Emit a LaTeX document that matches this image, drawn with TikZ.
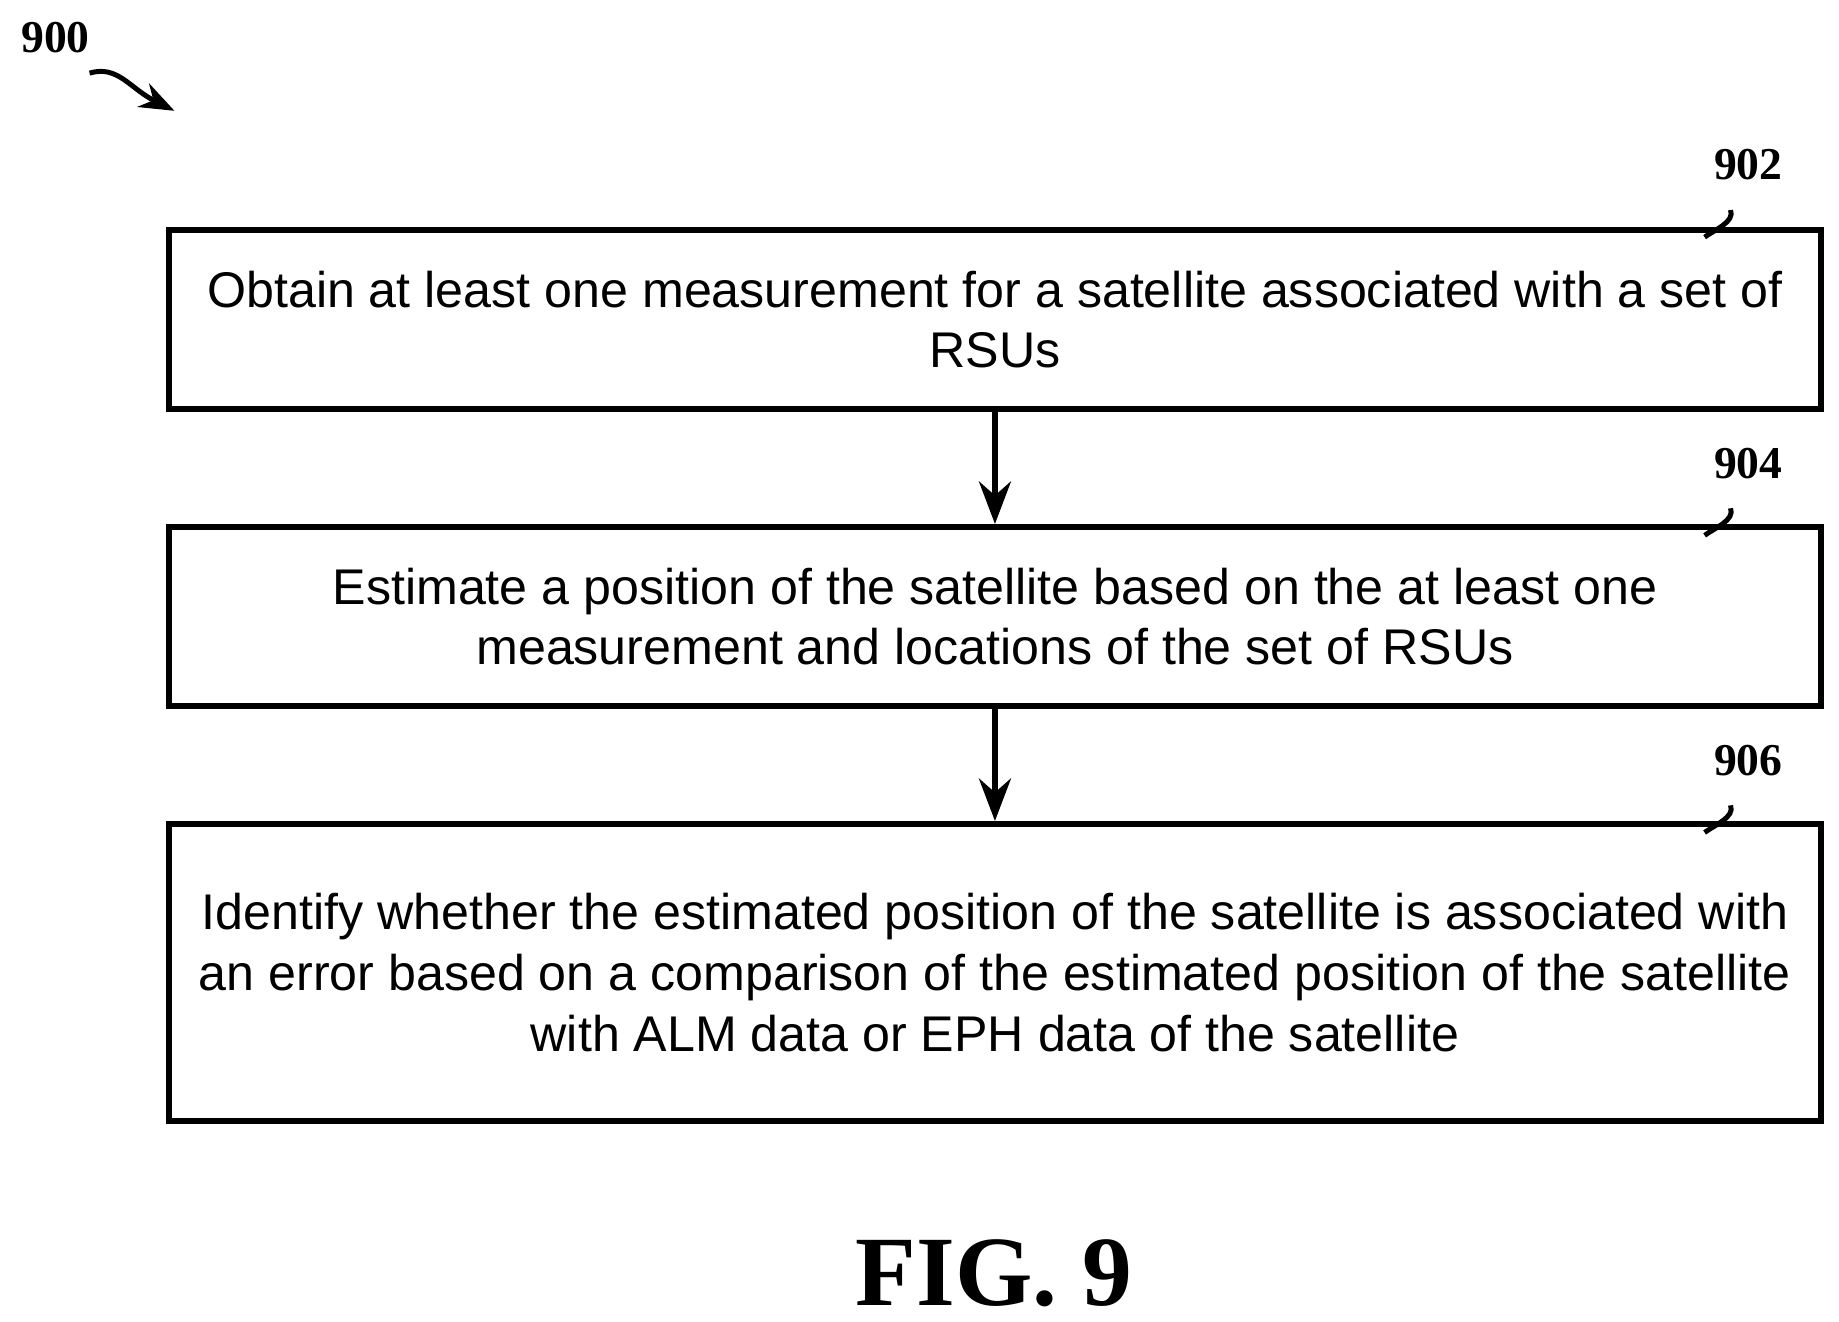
\documentclass[tikz,border=0pt]{standalone}
\usepackage{fontspec}
\setmainfont{Liberation Sans}
\newfontfamily\labelfont{Liberation Serif}
\usetikzlibrary{arrows.meta, positioning}

\begin{document}
\begin{tikzpicture}[->, >=Stealth, thick, x=0.01cm, y=-0.01cm]

  % Stili
  \tikzstyle{stepbox} = [rectangle, draw=black, line width=1.4pt, minimum width=14.0cm, minimum height=1.52cm, align=center, font=\fontsize{12.1pt}{14.6pt}\selectfont]
  \tikzstyle{reflabel} = [font=\labelfont\bfseries\fontsize{11pt}{13pt}\selectfont]

  \useasboundingbox (0,0) rectangle (1560,1121);

  % Nodi
  \node[stepbox] (s902) at (844,271) {Obtain at least one measurement for a satellite associated with a set of\\RSUs};
  \node[stepbox] (s904) at (844,523) {Estimate a position of the satellite based on the at least one\\measurement and locations of the set of RSUs};
  \node[stepbox, minimum height=2.52cm] (s906) at (844,825) {Identify whether the estimated position of the satellite is associated with\\an error based on a comparison of the estimated position of the satellite\\with ALM data or EPH data of the satellite};

  \node[reflabel] (l900) at (47,32) {900};
  \node[reflabel] (l902) at (1483,140) {902};
  \node[reflabel] (l904) at (1483,393) {904};
  \node[reflabel] (l906) at (1483,645) {906};
  \node[font=\labelfont\bfseries\fontsize{24pt}{28pt}\selectfont] (fig) at (843,1080) {FIG. 9};

  % Frecce
  \draw[line width=1.6pt] (s902) -- (s904);
  \draw[line width=1.6pt] (s904) -- (s906);
  \draw[line width=1.2pt] (76,62) .. controls (100,55) and (110,75) .. (148,94);
  \foreach \n in {902,904,906}
    \draw[-, line width=1.2pt] (l\n.south) ++(-15,12) .. controls +(4,10) and +(8,-6) .. ++(-22,23);

\end{tikzpicture}
\end{document}
